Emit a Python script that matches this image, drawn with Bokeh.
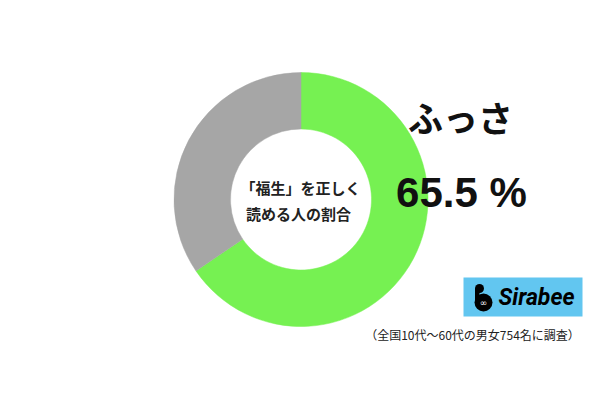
import math
from bokeh.plotting import figure
from bokeh.models import Range1d
from bokeh.core.properties import value
from bokeh.embed import file_html
from bokeh.resources import INLINE

# ---- data ----
categories = ["ふっさ", "その他"]
shares = [65.5, 34.5]
colors = ["#76F152", "#A6A6A6"]
center_lines = ["「福生」を正しく", "読める人の割合"]
answer_label = "ふっさ"
pct_label = "65.5 %"
note_label = "（全国10代〜60代の男女754名に調査）"
brand_label = "Sirabee"

W, H = 584, 384
p = figure(width=W, height=H, output_backend="svg", toolbar_location=None,
           x_range=Range1d(0, 584), y_range=Range1d(16, 400), min_border=0)
p.axis.visible = False
p.grid.visible = False
p.outline_line_color = None
p.background_fill_color = "white"
p.border_fill_color = "white"

cx, cy = 300.5, 201
r_out, r_in = 127, 70.5

# wedges clockwise from 12 o'clock
total = sum(shares)
start = 90.0
for val, col in zip(shares, colors):
    sweep = val / total * 360.0
    end = start - sweep
    p.annular_wedge(x=cx, y=cy, inner_radius=r_in, outer_radius=r_out,
                    start_angle=math.radians(end), end_angle=math.radians(start),
                    direction="anticlock", fill_color=col, line_color=col, line_width=0.5)
    start = end

cjk = value("Noto Sans CJK JP")
p.text(x=[300, 298], y=[213.5, 187], text=center_lines, text_font=cjk,
       text_font_style="bold", text_font_size="15px", text_color="#222222",
       text_align="center", text_baseline="middle")

p.text(x=[460], y=[284], text=[answer_label], text_font=cjk, text_font_style="bold",
       text_font_size="35px", text_color="#111111", text_align="center",
       text_baseline="middle")

p.text(x=[461], y=[208], text=[pct_label], text_font=value("Liberation Sans"),
       text_font_style="bold", text_font_size="42px", text_color="#111111",
       text_align="center", text_baseline="alphabetic")

p.text(x=[472], y=[66], text=[note_label], text_font=cjk,
       text_font_size="12px", text_color="#222222", text_align="center",
       text_baseline="middle")

# brand box
p.quad(left=463, right=582, bottom=84, top=123, fill_color="#62C6F0", line_color=None)
p.circle(x=[483], y=[98], radius=9, fill_color="black", line_color=None)
p.circle(x=[479], y=[112], radius=4.5, fill_color="black", line_color=None)
p.quad(left=474.5, right=479, bottom=98, top=112, fill_color="black", line_color=None)
p.text(x=[483], y=[98], text=["∞"], text_font=value("DejaVu Sans"), text_font_size="9px",
       text_color="white", text_align="center", text_baseline="middle")
p.text(x=[536], y=[103.5], text=[brand_label], text_font=value("Roboto"),
       text_font_style="bold italic", text_font_size="23px", text_color="black",
       text_align="center", text_baseline="middle")

open("out.html", "w").write(file_html(p, INLINE))
